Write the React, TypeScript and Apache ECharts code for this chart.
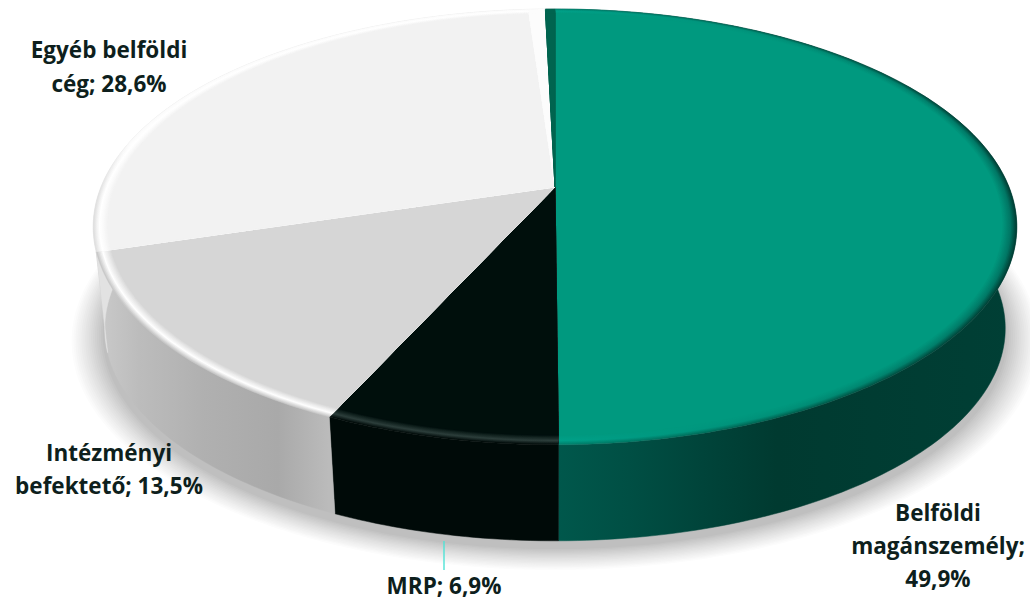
import React, { useEffect, useRef } from "react";
import * as echarts from "echarts";

const categories = ["Belföldi magánszemély", "MRP", "Intézményi befektető", "Egyéb belföldi cég", "Egyéb", "Külföldi"];
const values = [49.9, 6.9, 13.5, 28.6, 0.7, 0.4];
const labelLines = [
  ["Belföldi", "magánszemély;"],
  ["MRP;"],
  ["Intézményi", "befektető;"],
  ["Egyéb belföldi", "cég;"],
];
const shadowSteps = [18, 17, 16, 15, 14, 13, 12, 11, 10, 9, 8, 7, 6, 5, 4, 3, 2, 1];

// styles
const faces = ["#00997f", "#000f0c", "#d6d6d6", "#f2f2f2", "#fcfcfc", "#00644f"];
const wallStops: [number, string][][] = [
  [[0, "#00584c"], [0.5, "#00584c"], [0.58, "#004f44"], [0.66, "#00443a"], [0.74, "#003a30"], [1, "#003f35"]],
  [[0, "#000a08"], [1, "#000a08"]],
  [[0, "#cccccc"], [0.05, "#bcbcbc"], [0.12, "#b0b0b0"], [0.2, "#a9a9a9"], [0.255, "#bbbbbb"], [1, "#bbbbbb"]],
  [[0, "#e2e2e2"], [1, "#e2e2e2"]],
  [[0, "#e2e2e2"], [1, "#e2e2e2"]],
  [[0, "#00483c"], [1, "#00483c"]],
];
// rim colours: edge → crest → face, at the x offsets of rimOffsets
const rimOffsets = [0, 0.04, 0.5, 0.75, 1];
const rimEdge = [
  ["#00806c", "#00806c", "#00806c", "#00604f", "#003f35"],
  ["#000a08", "#000a08", "#000a08", "#000a08", "#000a08"],
  ["#c8c8c8", "#c8c8c8", "#c8c8c8", "#c8c8c8", "#c8c8c8"],
  ["#dedede", "#fbfbfb", "#fbfbfb", "#fbfbfb", "#fbfbfb"],
  ["#fcfcfc", "#fcfcfc", "#fcfcfc", "#fcfcfc", "#fcfcfc"],
  ["#00644f", "#00644f", "#00644f", "#00644f", "#00644f"],
];
const rimCrest = [
  ["#00a088", "#00a088", "#00a088", "#008f77", "#007563"],
  ["#2c3e3b", "#2c3e3b", "#2c3e3b", "#2c3e3b", "#2c3e3b"],
  ["#ffffff", "#ffffff", "#ffffff", "#ffffff", "#ffffff"],
  ["#ffffff", "#ffffff", "#ffffff", "#ffffff", "#ffffff"],
  ["#fcfcfc", "#fcfcfc", "#fcfcfc", "#fcfcfc", "#fcfcfc"],
  ["#00644f", "#00644f", "#00644f", "#00644f", "#00644f"],
];

// projection of the disc
const CX = 555;
const CY_TOP = 187;
const CY_BOTTOM = 289.5;
const SCALE_BOTTOM = 0.975;
const RX = 454;
const RY = 210.6;
const K = 0.183;
const FACE_R = 0.97;
const X0 = 93;
const X1 = 1017;

const project = (t: number, r: number, cy: number, s: number): number[] => {
  const u = r * Math.sin(t);
  const v = -r * Math.cos(t);
  const w = 1 - K * v;
  return [CX + (s * RX * u) / w, cy + (s * RY * v) / w];
};
const total = values.reduce((a, b) => a + b, 0);
const toAngle = (p: number) => (p / total) * Math.PI * 2;
const starts = values.map((_, i) => values.slice(0, i).reduce((a, b) => a + b, 0));

const arc = (a0: number, a1: number, r: number, cy: number, s: number) => {
  const n = Math.max(2, Math.ceil(((a1 - a0) * 180) / Math.PI));
  const pts: number[][] = [];
  for (let i = 0; i <= n; i++) pts.push(project(a0 + ((a1 - a0) * i) / n, r, cy, s));
  return pts;
};
const hexMix = (a: string, b: string, p: number) => {
  const pa = [1, 3, 5].map((i) => parseInt(a.slice(i, i + 2), 16));
  const pb = [1, 3, 5].map((i) => parseInt(b.slice(i, i + 2), 16));
  return "#" + pa.map((c, i) => Math.round(c + (pb[i] - c) * p).toString(16).padStart(2, "0")).join("");
};
const hGrad = (stops: [number, string][]) =>
  new echarts.graphic.LinearGradient(X0, 0, X1, 0, stops.map(([offset, color]) => ({ offset, color })), true);

const seriesData = values.map((v) => [v]);

const renderShadow = (params: any, api: any) => {
  const q = api.value(0) / shadowSteps.length;
  const r = 1 + 0.075 * q;
  return {
    type: "polygon",
    shape: { points: arc(0, Math.PI * 2 - 0.001, r, CY_BOTTOM + 7, SCALE_BOTTOM) },
    style: { fill: hexMix("#b8b8b8", "#ffffff", Math.pow(q, 0.8)) },
  };
};

const renderWall = (params: any, api: any) => {
  const i = params.dataIndex;
  const a0 = toAngle(starts[i]);
  const a1 = a0 + toAngle(api.value(0));
  const top = arc(a0, a1, 1, CY_TOP, 1);
  const bottom = arc(a0, a1, 1, CY_BOTTOM, SCALE_BOTTOM).reverse();
  const fill = hGrad(wallStops[i]);
  return {
    type: "polygon",
    shape: { points: top.concat(bottom) },
    style: { fill, stroke: fill, lineWidth: 0.5 },
  };
};

const renderTop = (params: any, api: any) => {
  const i = params.dataIndex;
  const a0 = toAngle(starts[i]);
  const a1 = a0 + toAngle(api.value(0));
  const apex = project(0, 0, CY_TOP, 1);
  const children: any[] = [];
  const steps = 10;
  for (let j = 0; j < steps; j++) {
    const p = j / steps;
    const r = 1 - (1 - FACE_R) * p;
    const stops = rimOffsets.map((offset, o) => {
      const color =
        p < 0.4
          ? hexMix(rimEdge[i][o], rimCrest[i][o], p / 0.4)
          : hexMix(rimCrest[i][o], faces[i], (p - 0.4) / 0.6);
      return [offset, color] as [number, string];
    });
    const fill = hGrad(stops);
    children.push({
      type: "polygon",
      shape: { points: [apex, ...arc(a0, a1, r, CY_TOP, 1)] },
      style: { fill, stroke: fill, lineWidth: 0.3 },
    });
  }
  children.push({
    type: "polygon",
    shape: { points: [apex, ...arc(a0, a1, FACE_R, CY_TOP, 1)] },
    style: { fill: faces[i], stroke: faces[i], lineWidth: 0.3 },
  });
  return { type: "group", children };
};

const fmt = (v: number) => `${v.toFixed(1).replace(".", ",")}%`;
const TEXT = "#0e1f1d";
const FONT = 'bold 22.5px "Open Sans", sans-serif';
const labelText = (x: number, y: number, text: string) => ({
  type: "text",
  x,
  y,
  z: 100,
  silent: true,
  style: { text, font: FONT, fill: TEXT, textAlign: "center", textVerticalAlign: "middle" },
});

const option: any = {
  animation: false,
  backgroundColor: "#ffffff",
  series: [
    {
      type: "custom",
      coordinateSystem: "none",
      silent: true,
      name: "shadow",
      data: shadowSteps.map((s) => [s]),
      renderItem: renderShadow,
      z: 1,
    },
    { type: "custom", coordinateSystem: "none", silent: true, name: "wall", data: seriesData, renderItem: renderWall, z: 2 },
    {
      type: "custom",
      coordinateSystem: "none",
      silent: true,
      name: "top",
      data: seriesData.map((d, i) => ({ name: categories[i], value: d })),
      renderItem: renderTop,
      z: 3,
    },
  ],
  graphic: [
    labelText(109, 49, labelLines[3][0]),
    labelText(109, 83, `${labelLines[3][1]} ${fmt(values[3])}`),
    labelText(109, 452, labelLines[2][0]),
    labelText(109, 485, `${labelLines[2][1]} ${fmt(values[2])}`),
    labelText(938, 512, labelLines[0][0]),
    labelText(938, 545, labelLines[0][1]),
    labelText(938, 578, fmt(values[0])),
    labelText(444, 585, `${labelLines[1][0]} ${fmt(values[1])}`),
    {
      type: "line",
      z: 100,
      silent: true,
      shape: { x1: 444, y1: 541, x2: 444, y2: 570 },
      style: { stroke: "#4fe3d6", lineWidth: 1.4 },
    },
  ],
};

export default function App() {
  const ref = useRef<HTMLDivElement>(null);
  useEffect(() => {
    const chart = echarts.init(ref.current!, undefined, { renderer: "svg" });
    chart.setOption(option);
    return () => chart.dispose();
  }, []);
  return <div ref={ref} style={{ position: "absolute", left: 0, top: 0, width: 1030, height: 600 }} />;
}
